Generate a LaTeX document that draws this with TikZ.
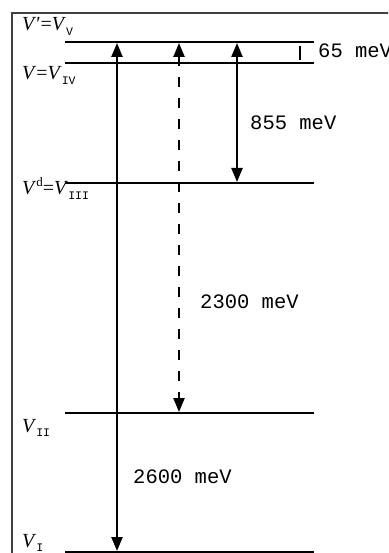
\documentclass[tikz,border=0pt]{standalone}
\usepackage{fontspec}
\setmainfont{Liberation Serif}
\newfontfamily\monof{Liberation Mono}
\usetikzlibrary{arrows.meta}
\newcommand{\lsub}[1]{\raisebox{-0.45ex}{\monof\fontsize{11.5}{11.5}\selectfont #1}}
\newcommand{\lsup}[1]{\raisebox{0.9ex}{\fontsize{13}{13}\selectfont #1}}
\begin{document}
\begin{tikzpicture}[x=1pt,y=-1pt,
  level/.style={line width=1.3pt,black},
  arr/.style={line width=2.4pt,{Triangle[width=11pt,length=14pt]}-{Triangle[width=11pt,length=14pt]}},
  darr/.style={arr,dash pattern=on 10pt off 11pt},
  lab/.style={anchor=base west,inner sep=0pt,font=\fontsize{20}{20}\selectfont},
  val/.style={anchor=base west,inner sep=0pt,font=\monof\fontsize{20.5}{20.5}\selectfont}]
\clip (0,0) rectangle (388,553);
\fill[white] (0,0) rectangle (388,553);
% frame
\draw[line width=1.1pt,black!75] (12,560) -- (12,13) -- (400,13);
% levels
\coordinate (V5l) at (65,42);  \coordinate (V5r) at (314,42);
\coordinate (V4l) at (65,63);  \coordinate (V4r) at (314,63);
\coordinate (V3l) at (65,183); \coordinate (V3r) at (314,183);
\coordinate (V2l) at (65,413); \coordinate (V2r) at (314,413);
\coordinate (V1l) at (65,552); \coordinate (V1r) at (314,552);
\draw[level] (V5l) -- (V5r);
\draw[level] (V4l) -- (V4r);
\draw[level] (V3l) -- (V3r);
\draw[level] (V2l) -- (V2r);
\draw[level] (V1l) -- (V1r);
% arrows
\coordinate (a1t) at (117,43); \coordinate (a1b) at (117,551);
\coordinate (a2t) at (179,43); \coordinate (a2b) at (179,412);
\coordinate (a3t) at (237,43); \coordinate (a3b) at (237,182);
\draw[arr] (a1t) -- (a1b);
\draw[darr] (a2t) -- (a2b);
\draw[arr] (a3t) -- (a3b);
% tick
\coordinate (tkt) at (300,46); \coordinate (tkb) at (300,60);
\draw[line width=2.4pt] (tkt) -- (tkb);
% labels
\node[lab] (l5) at (22,31) {\textit{V}′=\textit{V}\lsub{V}};
\node[lab] (l4) at (22,80) {\textit{V}=\textit{V}\lsub{IV}};
\node[lab] (l3) at (22,195) {\textit{V}\lsup{d}=\textit{V}\lsub{III}};
\node[lab] (l2) at (22,432) {\textit{V}\lsub{II}};
\node[lab] (l1) at (22,547) {\textit{V}\lsub{I}};
% values
\node[val] (e65) at (318,58) {65 meV};
\node[val] (e855) at (250,130) {855 meV};
\node[val] (e2300) at (200,308) {2300 meV};
\node[val] (e2600) at (133,483) {2600 meV};
\end{tikzpicture}
\end{document}
